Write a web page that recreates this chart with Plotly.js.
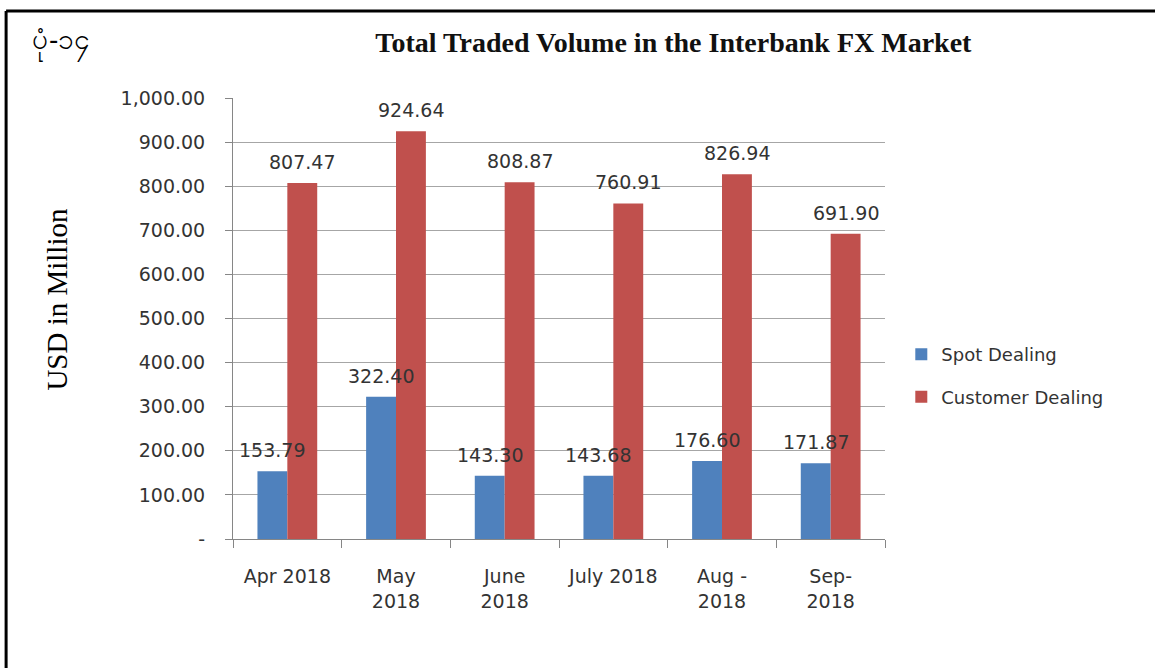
<!DOCTYPE html>
<html>
<head>
<meta charset="utf-8">
<script src="https://cdn.plot.ly/plotly-3.0.1.min.js"></script>
<style>html,body{margin:0;padding:0;background:#fff;}#chart{width:1155px;height:668px;}</style>
</head>
<body>
<div id="chart"></div>
<script>
const categories = ["Apr 2018", "May<br>2018", "June<br>2018", "July 2018", "Aug -<br>2018", "Sep-<br>2018"];
const spotDealing = [153.79, 322.40, 143.30, 143.68, 176.60, 171.87];
const customerDealing = [807.47, 924.64, 808.87, 760.91, 826.94, 691.90];
const yTickValues = [0, 100, 200, 300, 400, 500, 600, 700, 800, 900, 1000];
const yTickLabels = ["-", "100.00", "200.00", "300.00", "400.00", "500.00", "600.00", "700.00", "800.00", "900.00", "1,000.00"];
const seriesNames = ["Spot Dealing", "Customer Dealing"];
const seriesColors = ["#4F81BD", "#C0504D"];
const figureLabel = "ပုံ-၁၄";
const chartTitle = "Total Traded Volume in the Interbank FX Market";
const yTitle = "USD in Million";

const sansFamily = "'DejaVu Sans', Verdana, sans-serif";
const labelFont = {family: sansFamily, size: 19, color: "#333333"};

const allSeries = [spotDealing, customerDealing];
const traces = allSeries.map((vals, i) => ({
  type: "bar", name: seriesNames[i], x: categories, y: vals,
  marker: {color: seriesColors[i]}, legendgroup: "g" + i
}));

// value labels drawn on top of all bars (offset to each bar of the group)
const groupShift = [-15, 15];
const valueLabels = [];
allSeries.forEach((vals, i) => {
  vals.forEach((v, j) => {
    valueLabels.push({
      xref: "x", yref: "y", x: categories[j], y: v, text: v.toFixed(2),
      xshift: groupShift[i], yshift: 8, xanchor: "center", yanchor: "bottom",
      showarrow: false, font: labelFont
    });
  });
});

const layout = {
  width: 1155, height: 668,
  margin: {l: 233, r: 270, t: 98, b: 129},
  paper_bgcolor: "#ffffff", plot_bgcolor: "#ffffff",
  barmode: "group", bargap: 0.45, bargroupgap: 0,
  showlegend: true,
  legend: {x: 1.025, y: 0.46, xanchor: "left", yanchor: "top",
           font: {family: sansFamily, size: 18, color: "#333333"},
           traceorder: "grouped", tracegroupgap: 16, itemwidth: 30},
  xaxis: {type: "category", showline: true, linecolor: "#868686", linewidth: 1,
          ticks: "outside", tickson: "boundaries", ticklen: 8, tickcolor: "#868686",
          tickfont: labelFont, ticklabelstandoff: 20, showgrid: false, automargin: false},
  yaxis: {range: [0, 1000], tickvals: yTickValues, ticktext: yTickLabels,
          showline: true, linecolor: "#868686", linewidth: 1,
          ticks: "outside", ticklen: 7, tickcolor: "#868686",
          showgrid: true, gridcolor: "#a6a6a6", gridwidth: 1, zeroline: false,
          tickfont: labelFont, ticklabelstandoff: 16, automargin: false},
  title: {text: "<b>" + chartTitle + "</b>", x: 0.583, xanchor: "center", y: 0.937, yanchor: "middle",
          font: {family: "'Liberation Serif', 'Times New Roman', serif", size: 28, color: "#111111"}},
  annotations: valueLabels.concat([
    {text: figureLabel, xref: "paper", yref: "paper", x: -0.312, y: 1.125, xanchor: "left", yanchor: "middle",
     showarrow: false, font: {family: "sans-serif", size: 28, color: "#000000"}},
    {text: yTitle, xref: "paper", yref: "paper", x: -0.27, y: 0.545, xanchor: "center", yanchor: "middle",
     textangle: -90, showarrow: false,
     font: {family: "'Liberation Serif', 'Times New Roman', serif", size: 29, color: "#000000"}}
  ]),
  shapes: [
    {type: "line", xref: "paper", yref: "paper", x0: -0.348, x1: 1.42, y0: 1.197, y1: 1.197, line: {color: "#000000", width: 3}},
    {type: "line", xref: "paper", yref: "paper", x0: -0.348, x1: -0.348, y0: 1.197, y1: -0.3, line: {color: "#000000", width: 3}}
  ]
};

Plotly.newPlot("chart", traces, layout, {displayModeBar: false, staticPlot: true});
</script>
</body>
</html>
